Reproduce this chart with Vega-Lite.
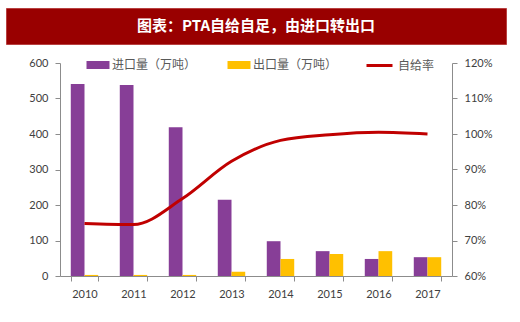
{
  "$schema": "https://vega.github.io/schema/vega-lite/v6.json",
  "padding": {"left": 5, "top": 7, "right": 5, "bottom": 0},
  "background": "white",
  "spacing": 19,
  "center": true,
  "bounds": "flush",
  "config": {
    "view": {"stroke": null},
    "font": "Lato",
    "axis": {
      "grid": false,
      "domainColor": "#8c8c8c",
      "tickColor": "#8c8c8c",
      "tickSize": 5,
      "labelColor": "#404040",
      "labelFont": "Lato",
      "labelFontSize": 11,
      "title": null
    },
    "legend": {
      "labelFont": "Noto Sans CJK SC",
      "labelFontSize": 12,
      "labelColor": "#595959",
      "padding": 0,
      "title": null
    }
  },
  "datasets": {
    "bars": [
      {"year": "2010", "type": "进口量（万吨）", "value": 541},
      {"year": "2011", "type": "进口量（万吨）", "value": 538},
      {"year": "2012", "type": "进口量（万吨）", "value": 419},
      {"year": "2013", "type": "进口量（万吨）", "value": 215},
      {"year": "2014", "type": "进口量（万吨）", "value": 98},
      {"year": "2015", "type": "进口量（万吨）", "value": 70},
      {"year": "2016", "type": "进口量（万吨）", "value": 48},
      {"year": "2017", "type": "进口量（万吨）", "value": 53},
      {"year": "2010", "type": "出口量（万吨）", "value": 3},
      {"year": "2011", "type": "出口量（万吨）", "value": 3},
      {"year": "2012", "type": "出口量（万吨）", "value": 3},
      {"year": "2013", "type": "出口量（万吨）", "value": 12},
      {"year": "2014", "type": "出口量（万吨）", "value": 48},
      {"year": "2015", "type": "出口量（万吨）", "value": 62},
      {"year": "2016", "type": "出口量（万吨）", "value": 70},
      {"year": "2017", "type": "出口量（万吨）", "value": 53}
    ],
    "rate": [
      {"year": "2010", "s": "自给率", "rate": 0.748},
      {"year": "2011", "s": "自给率", "rate": 0.745},
      {"year": "2012", "s": "自给率", "rate": 0.818},
      {"year": "2013", "s": "自给率", "rate": 0.923},
      {"year": "2014", "s": "自给率", "rate": 0.982},
      {"year": "2015", "s": "自给率", "rate": 0.998},
      {"year": "2016", "s": "自给率", "rate": 1.005},
      {"year": "2017", "s": "自给率", "rate": 1.0}
    ]
  },
  "vconcat": [
    {
      "width": 500,
      "height": 36,
      "view": {"fill": "#990000", "stroke": "#B84040", "strokeWidth": 1},
      "data": {"values": [{"t": "图表：PTA自给自足，由进口转出口"}]},
      "mark": {"type": "text", "color": "white", "font": "Noto Sans CJK SC", "fontSize": 15, "fontWeight": "bold", "baseline": "middle", "align": "center"},
      "encoding": {"text": {"field": "t"}}
    },
    {
      "width": 392,
      "height": 213,
      "layer": [
        {
          "data": {"name": "bars"},
          "mark": {"type": "bar"},
          "encoding": {
            "x": {
              "field": "year", "type": "ordinal",
              "scale": {"paddingInner": 0.44, "paddingOuter": 0.22},
              "axis": {"labelAngle": 0, "tickBand": "extent", "labelPadding": 7}
            },
            "xOffset": {"field": "type", "sort": ["进口量（万吨）", "出口量（万吨）"], "scale": {"paddingInner": 0}},
            "y": {
              "field": "value", "type": "quantitative",
              "scale": {"domain": [0, 600]},
              "axis": {"values": [0, 100, 200, 300, 400, 500, 600], "labelPadding": 7}
            },
            "color": {
              "field": "type", "type": "nominal",
              "scale": {"domain": ["进口量（万吨）", "出口量（万吨）"], "range": ["#873E97", "#FFC000"]},
              "legend": {
                "orient": "none", "direction": "horizontal", "legendX": 82, "legendY": 47,
                "symbolType": "M-1.15,-0.4H1.15V0.4H-1.15Z", "symbolSize": 400,
                "symbolStrokeWidth": 0, "labelOffset": 4, "columnPadding": 30
              }
            }
          }
        },
        {
          "data": {"name": "rate"},
          "mark": {"type": "line", "strokeWidth": 3, "interpolate": "monotone"},
          "encoding": {
            "x": {"field": "year", "type": "ordinal"},
            "y": {
              "field": "rate", "type": "quantitative",
              "scale": {"domain": [0.6, 1.2]},
              "axis": {"orient": "right", "format": ".0%", "values": [0.6, 0.7, 0.8, 0.9, 1.0, 1.1, 1.2], "labelPadding": 7}
            },
            "stroke": {
              "field": "s", "type": "nominal",
              "scale": {"range": ["#C00000"]},
              "legend": {
                "orient": "none", "legendX": 359, "legendY": 43,
                "symbolType": "stroke", "symbolSize": 676, "symbolStrokeWidth": 3, "labelOffset": 4
              }
            }
          }
        }
      ],
      "resolve": {"scale": {"y": "independent"}}
    }
  ]
}
